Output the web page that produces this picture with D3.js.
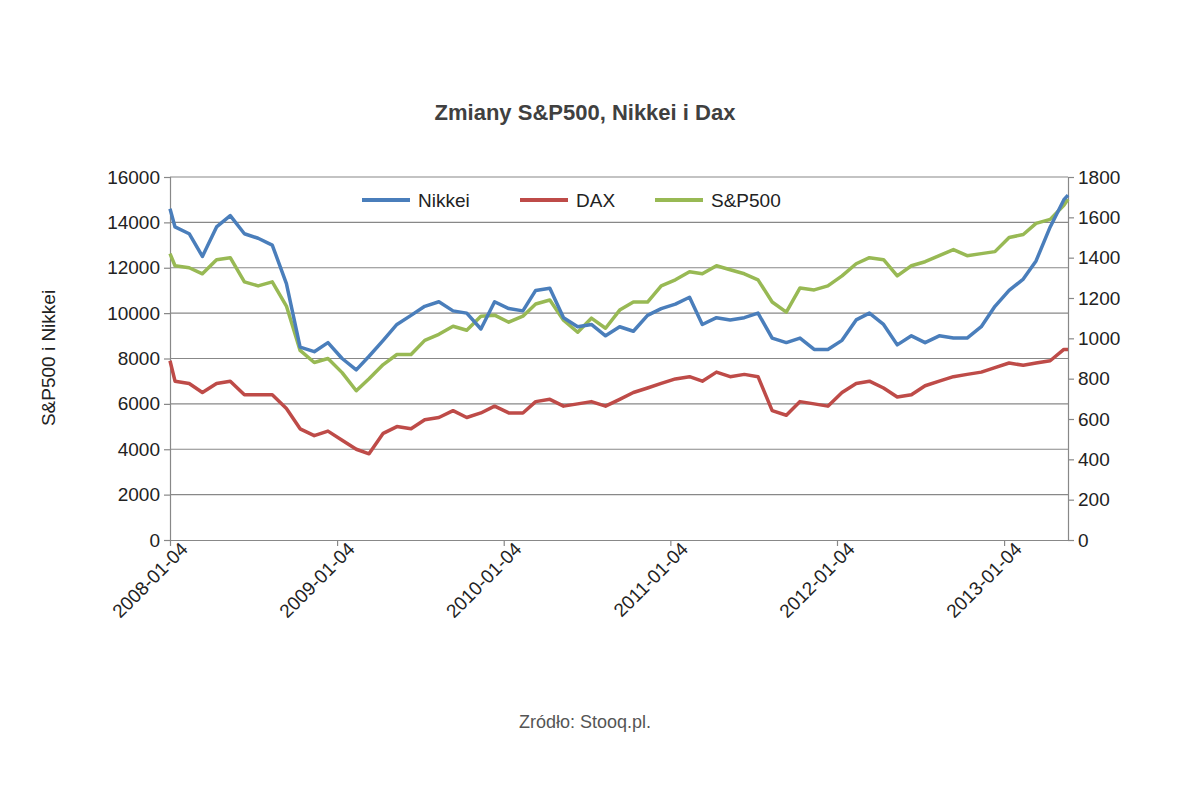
<!DOCTYPE html>
<html><head><meta charset="utf-8">
<script src="https://cdn.jsdelivr.net/npm/d3@7"></script>
<style>body{margin:0;background:#fff}svg text{font-family:"Liberation Sans",Arial,sans-serif}</style>
</head><body><svg id="c" width="1200" height="791"></svg>
<script>
// monthly readings, 2008-01 .. 2013-05
var months = d3.timeMonths(new Date(2008, 0, 1), new Date(2013, 5, 1)).map(function (d) { return new Date(d.getFullYear(), d.getMonth(), 15); });
var nikkei = [13800,13500,12500,13800,14300,13500,13300,13000,11300,8500,8300,8700,
  8000,7500,8100,8800,9500,9900,10300,10500,10100,10000,9300,10500,
  10200,10100,11000,11100,9800,9400,9500,9000,9400,9200,9900,10200,
  10400,10700,9500,9800,9700,9800,10000,8900,8700,8900,8400,8400,
  8800,9700,10000,9500,8600,9000,8700,9000,8900,8900,9400,10300,
  11000,11500,12300,13800,15000];
var dax = [7000,6900,6500,6900,7000,6400,6400,6400,5800,4900,4600,4800,
  4400,4000,3800,4700,5000,4900,5300,5400,5700,5400,5600,5900,
  5600,5600,6100,6200,5900,6000,6100,5900,6200,6500,6700,6900,
  7100,7200,7000,7400,7200,7300,7200,5700,5500,6100,6000,5900,
  6500,6900,7000,6700,6300,6400,6800,7000,7200,7300,7400,7600,
  7800,7700,7800,7900,8400];
var sp500 = [1360,1350,1320,1390,1400,1280,1260,1280,1160,940,880,900,
  830,740,800,870,920,920,990,1020,1060,1040,1110,1115,
  1080,1110,1170,1190,1090,1030,1100,1050,1140,1180,1180,1260,
  1290,1330,1320,1360,1340,1320,1290,1180,1130,1250,1240,1260,
  1310,1370,1400,1390,1310,1360,1380,1410,1440,1410,1420,1430,
  1500,1515,1570,1590,1660];
var startVals = {nikkei: 14600, dax: 7900, sp500: 1420};
var leftTicks = [0,2000,4000,6000,8000,10000,12000,14000,16000];
var rightTicks = [0,200,400,600,800,1000,1200,1400,1600,1800];
var xTickDates = [2008,2009,2010,2011,2012,2013].map(function (y) { return new Date(y, 0, 4); });

var svg = d3.select("#c");
var x = d3.scaleTime().domain([new Date(2008,0,4), new Date(2013,4,24)]).range([170, 1068]);
var yL = d3.scaleLinear().domain([0,16000]).range([540,177]);
var yR = d3.scaleLinear().domain([0,1800]).range([540,177]);
var fmt = d3.timeFormat("%Y-%m-%d");

svg.append("text").attr("x", 585).attr("y", 120).attr("text-anchor","middle")
  .attr("font-size", 22).attr("font-weight","bold").attr("fill","#404040").text("Zmiany S&P500, Nikkei i Dax");

svg.selectAll("line.grid").data(leftTicks.slice(1)).enter().append("line")
  .attr("x1",170).attr("x2",1068).attr("y1",yL).attr("y2",yL).attr("stroke","#888").attr("stroke-width",1.2);

var gl = svg.append("g").attr("transform","translate(170,0)").call(d3.axisLeft(yL).tickValues(leftTicks).tickFormat(d3.format("d")).tickSizeOuter(0).tickSize(6));
var gr = svg.append("g").attr("transform","translate(1068,0)").call(d3.axisRight(yR).tickValues(rightTicks).tickFormat(d3.format("d")).tickSizeOuter(0).tickSize(6));
var gb = svg.append("g").attr("transform","translate(0,540)").call(d3.axisBottom(x).tickValues(xTickDates).tickFormat(fmt).tickSize(6).tickSizeOuter(0));
[gl,gr,gb].forEach(function (g) {
  g.selectAll("path,line").attr("stroke","#888").attr("stroke-width",1.2);
  g.selectAll("text").attr("font-size",19).attr("fill","#222").style("font-family","Liberation Sans, Arial, sans-serif");
});
gl.selectAll("text").attr("x",-10);
gr.selectAll("text").attr("x",10);
gb.selectAll("text").attr("text-anchor","end").attr("dx","0.3em").attr("dy","0.6em").attr("transform","rotate(-45)");

svg.append("text").attr("transform","translate(55,358) rotate(-90)").attr("text-anchor","middle")
  .attr("font-size",19).attr("fill","#222").text("S&P500 i Nikkei");

var dates = [new Date(2008,0,4)].concat(months).concat([new Date(2013,4,24)]);
function series(arr, start, end) { return [start].concat(arr).concat([end]); }
var lines = [
  {name:"Nikkei", color:"#4a7ebb", y:yL, v:series(nikkei, startVals.nikkei, 15200)},
  {name:"DAX", color:"#be4b48", y:yL, v:series(dax, startVals.dax, 8400)},
  {name:"S&P500", color:"#98b954", y:yR, v:series(sp500, startVals.sp500, 1690)}
];
lines.slice().reverse().forEach(function (s) {
  var line = d3.line().x(function (d, i) { return x(dates[i]); }).y(function (d) { return s.y(d); });
  svg.append("path").datum(s.v).attr("d", line).attr("fill","none").attr("stroke", s.color)
    .attr("stroke-width",3.5).attr("stroke-linejoin","round");
});

var lx = [362, 520, 655];
var leg = svg.selectAll("g.leg").data(lines).enter().append("g")
  .attr("transform", function (d, i) { return "translate(" + lx[i] + ",200)"; });
leg.append("line").attr("x1",0).attr("x2",48).attr("stroke", function (d) { return d.color; }).attr("stroke-width",4);
leg.append("text").attr("x",56).attr("y",7).attr("font-size",19).attr("fill","#222").text(function (d) { return d.name; });

svg.append("text").attr("x",585).attr("y",728).attr("text-anchor","middle").attr("font-size",18).attr("fill","#555").text("Zródło: Stooq.pl.");
</script></body></html>
